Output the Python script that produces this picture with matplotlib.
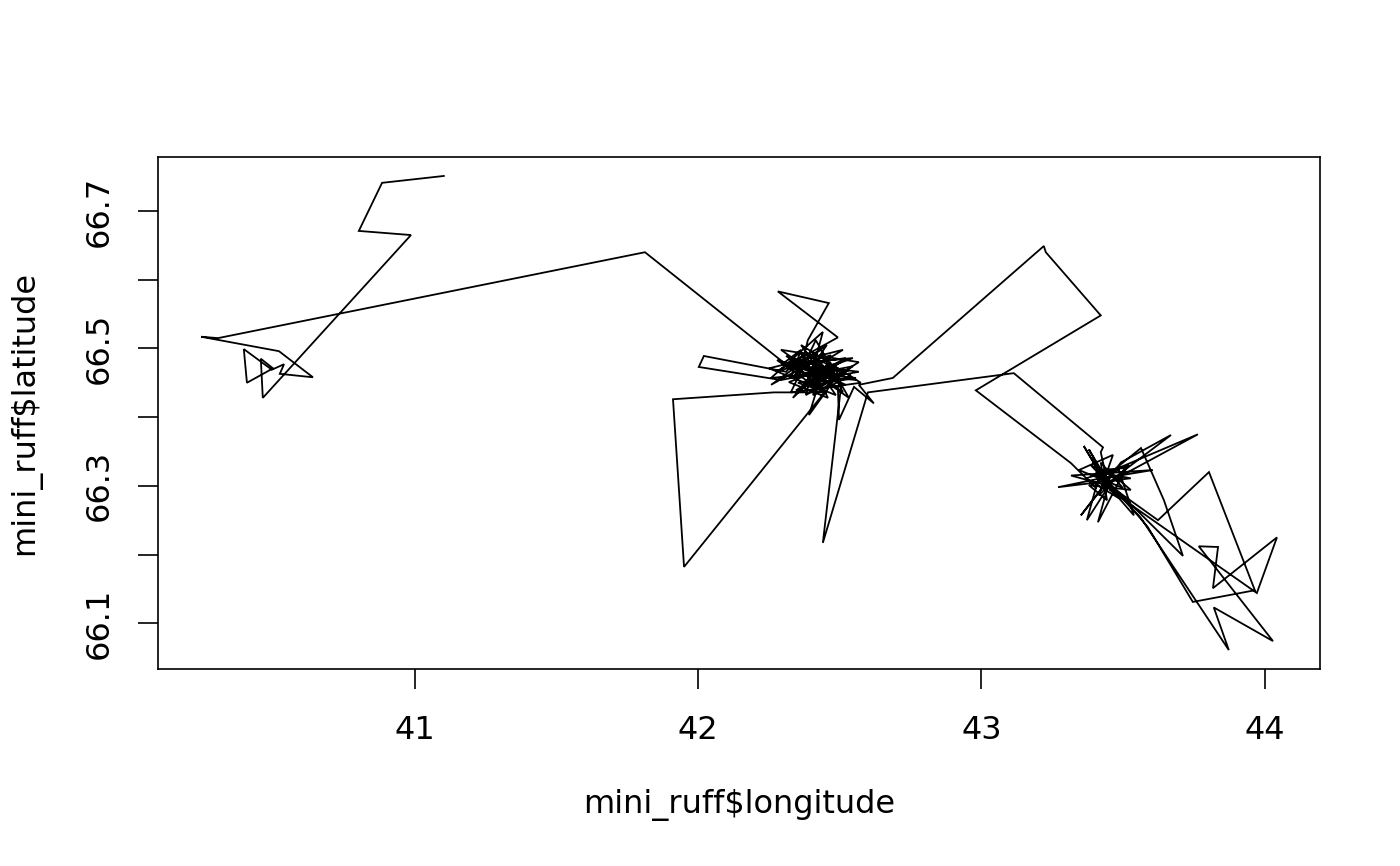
import matplotlib
matplotlib.use("Agg")
import matplotlib.pyplot as plt

plt.rcParams['font.family'] = ['DejaVu Sans']

# Track of mini_ruff (longitude, latitude)
longitude = [
    # western part
    41.102, 40.884, 40.802, 40.986, 40.463, 40.456, 40.499, 40.407, 40.396,
    40.495, 40.538, 40.523, 40.640, 40.520, 40.245, 40.305, 41.812,
    # first cluster (around 42.4)
    42.303, 42.363, 42.327, 42.415, 42.257, 42.454, 42.391, 42.504, 42.345,
    42.440, 42.310, 42.539, 42.405, 42.468, 42.274, 42.493, 42.281, 42.461,
    42.387, 42.363, 42.521, 42.327, 42.426, 42.546, 42.292, 42.002, 42.020,
    42.310, 42.380, 42.504, 42.415, 42.567, 42.352, 42.454, 42.267, 41.911,
    41.950, 42.444, 42.405, 42.521, 42.320, 42.468, 42.391, 42.440, 42.560,
    42.363, 42.486, 42.504, 42.440, 42.599, 43.114, 43.429,
    # second cluster (around 43.45)
    43.421, 43.443, 43.379, 43.474, 43.404, 43.527, 43.270, 43.457, 43.351,
    43.436, 43.492, 43.669, 43.467, 43.372, 43.421, 43.510, 43.411, 43.450,
    43.764, 43.467, 43.563, 43.644, 43.711, 43.464, 43.429, 43.605, 43.316,
    43.457, 43.623, 43.803, 43.965, 43.746, 43.587, 43.492, 43.407, 43.485,
    43.538, 43.439, 43.361, 43.453, 43.972, 44.043, 43.817, 43.835, 43.767,
    44.029, 43.820, 43.873, 43.563, 43.450, 43.386, 43.492, 43.425,
    43.393, 43.485, 43.369, 43.520, 43.414, 43.464, 43.344, 43.499, 43.421,
    43.443, 43.379, 43.527, 43.436, 43.404, 43.316,
    42.980, 43.421, 43.227, 43.220, 42.687,
    # back to the first cluster
    42.567, 42.620, 42.550, 42.497, 42.493, 42.398, 42.334, 42.468, 42.380,
    42.532, 42.313, 42.433, 42.511, 42.363, 42.454, 42.345, 42.557, 42.405,
    42.475, 42.257, 42.440, 42.380, 42.567, 42.292, 42.532, 42.415, 42.327,
    42.574, 42.363, 42.486, 42.250, 42.511, 42.405, 42.458, 42.320, 42.546,
    42.391, 42.497, 42.278, 42.433, 42.521, 42.355, 42.468, 42.405,
]

latitude = [
    66.751, 66.741, 66.671, 66.665, 66.428, 66.485, 66.471, 66.450, 66.499,
    66.469, 66.477, 66.463, 66.458, 66.496, 66.517, 66.515, 66.640,
    66.479, 66.498, 66.457, 66.483, 66.447, 66.505, 66.466, 66.480, 66.439,
    66.454, 66.489, 66.461, 66.432, 66.490, 66.466, 66.516, 66.583, 66.566,
    66.512, 66.471, 66.447, 66.483, 66.442, 66.474, 66.454, 66.473, 66.489,
    66.466, 66.495, 66.454, 66.474, 66.466, 66.450, 66.436, 66.436, 66.426,
    66.182, 66.435, 66.460, 66.486, 66.474, 66.447, 66.403, 66.468, 66.454,
    66.461, 66.471, 66.444, 66.217, 66.436, 66.464, 66.356,
    66.349, 66.308, 66.353, 66.286, 66.320, 66.311, 66.298, 66.314, 66.257,
    66.302, 66.334, 66.374, 66.311, 66.250, 66.323, 66.326, 66.247, 66.305,
    66.375, 66.323, 66.355, 66.279, 66.198, 66.299, 66.311, 66.323, 66.315,
    66.299, 66.250, 66.320, 66.148, 66.131, 66.240, 66.286, 66.314, 66.323,
    66.257, 66.304, 66.358, 66.294, 66.144, 66.225, 66.151, 66.211, 66.212,
    66.074, 66.123, 66.061, 66.253, 66.302, 66.330, 66.308, 66.307,
    66.340, 66.282, 66.311, 66.330, 66.286, 66.345, 66.323, 66.297, 66.334,
    66.279, 66.301, 66.294, 66.326, 66.297, 66.333,
    66.439, 66.548, 66.640, 66.649, 66.457,
    66.447, 66.420, 66.444, 66.396, 66.444, 66.461, 66.428, 66.480, 66.447,
    66.468, 66.471, 66.498, 66.436, 66.480, 66.460, 66.466, 66.457, 66.447,
    66.466, 66.457, 66.524, 66.432, 66.480, 66.498, 66.428, 66.512, 66.436,
    66.450, 66.505, 66.432, 66.471, 66.498, 66.471, 66.428, 66.451, 66.486,
    66.480, 66.457, 66.483, 66.439, 66.466, 66.495, 66.454, 66.486,
]

x_ticks = [41, 42, 43, 44]
x_tick_labels = ["41", "42", "43", "44"]
y_ticks = [66.1, 66.2, 66.3, 66.4, 66.5, 66.6, 66.7]
y_tick_labels = ["66.1", "", "66.3", "", "66.5", "", "66.7"]

fig = plt.figure(figsize=(14, 8.66), dpi=100)
ax = fig.add_axes([158 / 1400, 1 - 669 / 866, (1320 - 158) / 1400, (669 - 157) / 866])

ax.plot(longitude, latitude, color="black", linewidth=1.3, solid_joinstyle="miter")
ax.margins(0.04)

fs = 23
ax.set_xticks(x_ticks)
ax.set_xticklabels(x_tick_labels, fontsize=fs)
ax.set_yticks(y_ticks)
ax.set_yticklabels(y_tick_labels, fontsize=fs, rotation=90, va="center")
ax.tick_params(axis="x", length=14.4, width=1.2, pad=19)
ax.tick_params(axis="y", length=14.4, width=1.2, pad=17)
for s in ax.spines.values():
    s.set_linewidth(1.2)

fig.text(739 / 1400, 1 - 805 / 866, "mini_ruff$longitude", fontsize=fs,
         ha="center", va="center")
fig.text(25 / 1400, 1 - 413 / 866, "mini_ruff$latitude", fontsize=fs,
         ha="center", va="center", rotation=90)

fig.savefig("out.png", dpi=100)
